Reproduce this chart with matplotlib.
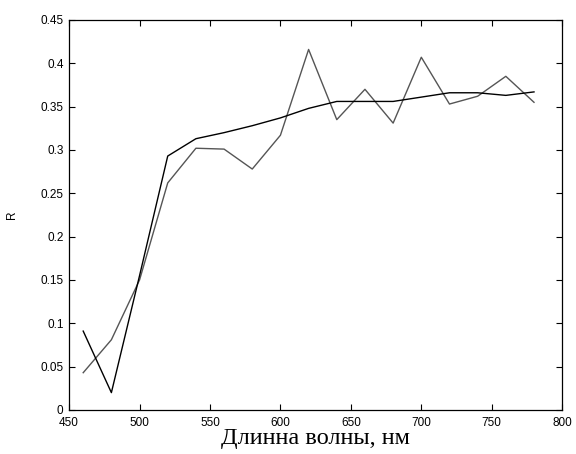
import matplotlib
matplotlib.use("Agg")
import matplotlib.pyplot as plt

wavelength = [460, 480, 500, 520, 540, 560, 580, 600, 620, 640, 660, 680, 700, 720, 740, 760, 780]
r_smooth = [0.091, 0.020, 0.155, 0.293, 0.313, 0.320, 0.328, 0.337, 0.348, 0.356, 0.356, 0.356, 0.361, 0.366, 0.366, 0.363, 0.367]
r_measured = [0.043, 0.081, 0.150, 0.262, 0.302, 0.301, 0.278, 0.317, 0.416, 0.335, 0.370, 0.331, 0.407, 0.353, 0.362, 0.385, 0.355]
xticks = [450, 500, 550, 600, 650, 700, 750, 800]
yticks = [0, 0.05, 0.1, 0.15, 0.2, 0.25, 0.3, 0.35, 0.4, 0.45]
ytick_labels = ["0", "0.05", "0.1", "0.15", "0.2", "0.25", "0.3", "0.35", "0.4", "0.45"]

fig = plt.figure(figsize=(5.76, 4.54), dpi=100)
ax = fig.add_axes([0.12, 0.097, 0.856, 0.859])
ax.plot(wavelength, r_measured, color="#555555", lw=1.0)
ax.plot(wavelength, r_smooth, color="#000000", lw=1.0)
ax.set_xlim(450, 800)
ax.set_ylim(0, 0.45)
ax.set_xticks(xticks)
ax.set_yticks(yticks)
ax.set_yticklabels(ytick_labels)
ax.tick_params(direction="in", top=True, right=True, length=4, width=0.8,
               labelsize=8.5)
ax.tick_params(axis="x", pad=5)
ax.tick_params(axis="y", pad=4)
for lab in ax.get_xticklabels() + ax.get_yticklabels():
    lab.set_family("Liberation Sans")
for s in ax.spines.values():
    s.set_linewidth(0.9)
ax.set_xlabel("Длинна волны, нм", family="Liberation Serif", fontsize=17.5, labelpad=-1)
ax.set_ylabel("R", family="Liberation Sans", fontsize=8.5, labelpad=16)
fig.savefig("out.png", dpi=100)
